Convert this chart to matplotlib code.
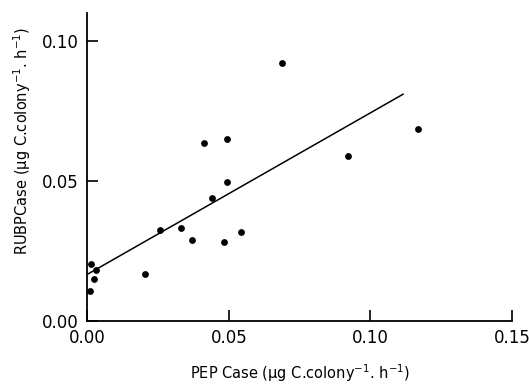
import matplotlib
matplotlib.use("Agg")
import matplotlib.pyplot as plt
import numpy as np

plt.rcParams['font.family'] = ['DejaVu Sans']
plt.rcParams['mathtext.default'] = 'regular'

# PEP Case activity (x) and RUBP Case activity (y)
pep_case = [0.0686, 0.1168, 0.0920, 0.0411, 0.0495, 0.0495, 0.0439, 0.0258, 0.0332,
            0.0369, 0.0483, 0.0544, 0.0204, 0.0014, 0.0030, 0.0022, 0.0008]
rubp_case = [0.0923, 0.0686, 0.0588, 0.0636, 0.0649, 0.0496, 0.0439, 0.0327, 0.0332,
             0.0289, 0.0281, 0.0317, 0.0170, 0.0204, 0.0183, 0.0150, 0.0108]

# regression line
fit_intercept = 0.0167
fit_slope = 0.577
fit_x_range = [0.0, 0.1115]

x_ticks = [0.00, 0.05, 0.10, 0.15]
x_ticklabels = ['0.00', '0.05', '0.10', '0.15']
y_ticks = [0.00, 0.05, 0.10]
y_ticklabels = ['0.00', '0.05', '0.10']

fig = plt.figure(figsize=(5.29, 3.86), dpi=100)
ax = fig.add_axes([0.165, 0.168, 0.803, 0.798])

ax.scatter(pep_case, rubp_case, s=24, color='black', zorder=3, linewidths=0)
lx = np.array(fit_x_range)
ax.plot(lx, fit_intercept + fit_slope * lx, color='black', lw=1.1)

ax.set_xlim(0, 0.15)
ax.set_ylim(0, 0.11)
ax.set_xticks(x_ticks)
ax.set_xticklabels(x_ticklabels)
ax.set_yticks(y_ticks)
ax.set_yticklabels(y_ticklabels)
ax.tick_params(direction='in', length=8, width=1.2, labelsize=12, pad=6)
for s in ['top', 'right']:
    ax.spines[s].set_visible(False)
for s in ['left', 'bottom']:
    ax.spines[s].set_linewidth(1.3)

ax.set_xlabel('PEP Case ($\\mu$g C.colony$^{-1}$. h$^{-1}$)', fontsize=10.5, labelpad=11)
ax.set_ylabel('RUBPCase ($\\mu$g C.colony$^{-1}$. h$^{-1}$)', fontsize=10.5, labelpad=4)
ax.yaxis.set_label_coords(-0.128, 0.585)

fig.savefig('out.png', dpi=100)
